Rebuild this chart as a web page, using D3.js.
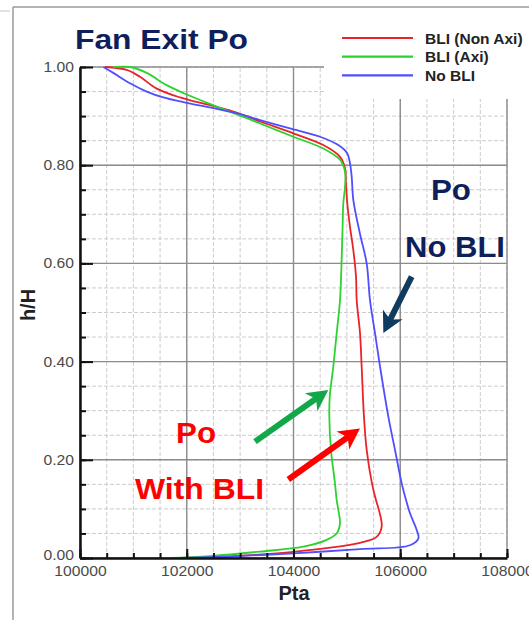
<!doctype html>
<html lang="en">
<head>
<meta charset="utf-8">
<title>Fan Exit Po</title>
<script src="https://cdnjs.cloudflare.com/ajax/libs/d3/7.8.5/d3.min.js"></script>
<style>
  body { margin: 0; background: #fff; }
  svg text { font-family: "Liberation Sans", Arial, sans-serif; }
</style>
</head>
<body>
<svg width="529" height="620" id="svg"></svg>
<script>
// axis ticks
var xTicks = [100000, 102000, 104000, 106000, 108000];
var yTicks = [0, 0.2, 0.4, 0.6, 0.8, 1.0];
var xMinor = d3.range(100000, 108001, 500);
var yMinor = d3.range(0, 1.0001, 0.05);

var seriesNames = ['BLI (Non Axi)', 'BLI (Axi)', 'No BLI'];
var seriesColors = ['#e8242a', '#2ed22e', '#4f4fff'];

// [Pta, h/H]
var bliNonAxi = [[101900,0],[102748,0.003],[103685,0.0095],[104621,0.02],[105246,0.031],[105558,0.043],
  [105652,0.064],[105600,0.098],[105545,0.118],[105470,0.152],[105371,0.22],[105320,0.288],[105277,0.39],
  [105246,0.458],[105184,0.525],[105171,0.573],[105121,0.627],[105058,0.675],[105008,0.722],[104983,0.763],
  [104965,0.794],[104871,0.817],[104558,0.841],[103996,0.865],[103372,0.889],[102874,0.909],[102186,0.929],
  [101874,0.938],[101437,0.956],[101124,0.98],[100875,0.994],[100470,1.0]];

var bliAxi = [[101686,0],[102436,0.004],[103372,0.013],[104184,0.023],[104621,0.037],[104809,0.05],
  [104871,0.071],[104840,0.098],[104809,0.118],[104777,0.152],[104702,0.22],[104671,0.288],[104680,0.33],
  [104746,0.39],[104809,0.458],[104871,0.525],[104902,0.607],[104920,0.675],[104933,0.722],[104965,0.756],
  [104965,0.787],[104871,0.811],[104558,0.834],[103996,0.858],[103372,0.885],[103124,0.896],[102500,0.922],
  [102000,0.944],[101624,0.963],[101250,0.988],[100937,1.0],[100624,1.0]];

var noBli = [[101874,0],[102748,0.003],[103996,0.0095],[105246,0.018],[106183,0.026],[106340,0.040],
  [106308,0.057],[106183,0.091],[106108,0.118],[106027,0.152],[105902,0.22],[105777,0.288],[105621,0.39],
  [105527,0.458],[105433,0.525],[105371,0.6],[105246,0.66],[105121,0.729],[105090,0.777],[105058,0.804],
  [105008,0.824],[104840,0.841],[104496,0.858],[103934,0.875],[103372,0.892],[103000,0.904],[102500,0.916],
  [102000,0.927],[101560,0.938],[101250,0.95],[100937,0.967],[100624,0.988],[100437,1.0]];

var series = [bliNonAxi, bliAxi, noBli];

// annotation arrows, in data units
var arrows = [
  {from: [106214, 0.573], to: [105683, 0.458], color: '#0f3b5f'},
  {from: [103279, 0.237], to: [104652, 0.342], color: '#12a84a'},
  {from: [103903, 0.160], to: [105246, 0.264], color: '#ff0000'}
];

var svg = d3.select('#svg');

var x = d3.scaleLinear().domain([100000, 108000]).range([80, 507]);
var y = d3.scaleLinear().domain([0, 1]).range([558, 67]);

// page frame
svg.append('line').attr('x1', 13).attr('y1', 7).attr('x2', 529).attr('y2', 7)
  .attr('stroke', '#9a9a9a').attr('stroke-width', 1.5);
svg.append('line').attr('x1', 13).attr('y1', 7).attr('x2', 13).attr('y2', 620)
  .attr('stroke', '#9a9a9a').attr('stroke-width', 1.5);
svg.append('line').attr('x1', 0).attr('y1', 11).attr('x2', 10).attr('y2', 11)
  .attr('stroke', '#e2e2e2').attr('stroke-width', 2);

// minor grid
var grid = svg.append('g');
grid.selectAll('.vminor').data(xMinor).enter().append('line')
  .attr('x1', function(d) { return x(d); }).attr('x2', function(d) { return x(d); })
  .attr('y1', y(0)).attr('y2', y(1))
  .attr('stroke', '#cccccc').attr('stroke-width', 1).attr('stroke-dasharray', '4,2');
grid.selectAll('.hminor').data(yMinor).enter().append('line')
  .attr('x1', x(100000)).attr('x2', x(108000))
  .attr('y1', function(d) { return y(d); }).attr('y2', function(d) { return y(d); })
  .attr('stroke', '#cccccc').attr('stroke-width', 1).attr('stroke-dasharray', '4,2');

// major grid
grid.selectAll('.vmajor').data(xTicks).enter().append('line')
  .attr('x1', function(d) { return x(d); }).attr('x2', function(d) { return x(d); })
  .attr('y1', y(0)).attr('y2', y(1))
  .attr('stroke', '#8c8c8c').attr('stroke-width', 1.4);
grid.selectAll('.hmajor').data(yTicks).enter().append('line')
  .attr('x1', x(100000)).attr('x2', x(108000))
  .attr('y1', function(d) { return y(d); }).attr('y2', function(d) { return y(d); })
  .attr('stroke', '#8c8c8c').attr('stroke-width', 1.4);

// legend backing
svg.append('rect').attr('x', 324).attr('y', 10).attr('width', 205).attr('height', 89).attr('fill', '#fff');

// curves
var line = d3.line()
  .x(function(d) { return x(d[0]); })
  .y(function(d) { return y(d[1]); })
  .curve(d3.curveCatmullRom);

svg.selectAll('.curve').data(series).enter().append('path')
  .attr('class', 'curve')
  .attr('d', line)
  .attr('fill', 'none')
  .attr('stroke', function(d, i) { return seriesColors[i]; })
  .attr('stroke-width', 1.8);

// axes
var gx = svg.append('g').attr('transform', 'translate(0,' + y(0) + ')')
  .call(d3.axisBottom(x).tickValues(xTicks).tickSize(-9).tickSizeOuter(0).tickPadding(8).tickFormat(d3.format('d')));
svg.append('g').attr('transform', 'translate(0,' + y(0) + ')')
  .call(d3.axisBottom(x).tickValues(xMinor).tickSize(-5).tickSizeOuter(0).tickFormat(''))
  .select('.domain').remove();
var gy = svg.append('g').attr('transform', 'translate(' + x(100000) + ',0)')
  .call(d3.axisLeft(y).tickValues(yTicks).tickSize(-13).tickSizeOuter(0).tickPadding(6).tickFormat(d3.format('.2f')));
svg.append('g').attr('transform', 'translate(' + x(100000) + ',0)')
  .call(d3.axisLeft(y).tickValues(yMinor).tickSize(-6).tickSizeOuter(0).tickFormat(''))
  .select('.domain').remove();

svg.selectAll('.tick line').attr('stroke', '#111').attr('stroke-width', 2);
gx.select('.domain').attr('stroke', '#111').attr('stroke-width', 2.5);
gy.select('.domain').attr('stroke', '#111').attr('stroke-width', 2.5);
svg.selectAll('.tick text')
  .attr('class', 'stretch')
  .attr('fill', '#4a4a4a')
  .style('font-size', '14px');
// 0.00 sits a touch high in the original, just above the 100000 label
gy.selectAll('.tick').filter(function(d) { return d === 0; }).select('text').attr('dy', '0.1em');

// axis titles
svg.append('text').attr('x', 294).attr('y', 600).attr('text-anchor', 'middle')
  .style('font-size', '20px').style('font-weight', 'bold').attr('fill', '#222').text('Pta');
svg.append('text').attr('transform', 'translate(35,305) rotate(-90)').attr('text-anchor', 'middle')
  .style('font-size', '20px').style('font-weight', 'bold').attr('fill', '#222').text('h/H');

// title
svg.append('text').attr('x', 75).attr('y', 49)
  .attr('textLength', 173).attr('lengthAdjust', 'spacingAndGlyphs')
  .style('font-size', '28px').style('font-weight', 'bold').attr('fill', '#0f1f5c').text('Fan Exit Po');

// legend
var leg = svg.selectAll('.leg').data(seriesNames).enter().append('g')
  .attr('transform', function(d, i) { return 'translate(0,' + (38 + i * 18.7) + ')'; });
leg.append('line').attr('x1', 342).attr('x2', 413)
  .attr('stroke', function(d, i) { return seriesColors[i]; }).attr('stroke-width', 2.2);
leg.append('text').attr('x', 425).attr('y', 5.5)
  .style('font-size', '15.5px').style('font-weight', 'bold').attr('fill', '#222')
  .text(function(d) { return d; });

// annotations
function note(tx, ty, str, size, len, color) {
  svg.append('text').attr('x', tx).attr('y', ty)
    .attr('textLength', len).attr('lengthAdjust', 'spacingAndGlyphs')
    .style('font-size', size + 'px').style('font-weight', 'bold').attr('fill', color).text(str);
}
note(431, 200, 'Po', 30, 40, '#0f1f5c');
note(405, 257, 'No BLI', 30, 100, '#0f1f5c');
note(176, 443, 'Po', 29, 40, '#ff0000');
note(135, 499, 'With BLI', 29, 129, '#ff0000');

arrows.forEach(function(a) {
  var x1 = x(a.from[0]), y1 = y(a.from[1]), x2 = x(a.to[0]), y2 = y(a.to[1]);
  var ang = Math.atan2(y2 - y1, x2 - x1), L = 21, W = 11;
  var c = Math.cos(ang), s = Math.sin(ang);
  var bx = x2 - L * c, by = y2 - L * s;
  svg.append('line').attr('x1', x1).attr('y1', y1)
    .attr('x2', x2 - 0.6 * L * c).attr('y2', y2 - 0.6 * L * s)
    .attr('stroke', a.color).attr('stroke-width', 6);
  var pts = [[x2, y2], [bx - W * s, by + W * c], [x2 - 0.72 * L * c, y2 - 0.72 * L * s], [bx + W * s, by - W * c]];
  svg.append('polygon').attr('points', pts.map(function(p) { return p.join(','); }).join(' '))
    .attr('fill', a.color);
});

// tick labels look a little wide in the picture
svg.selectAll('text.stretch').each(function() {
  var w = this.getComputedTextLength();
  d3.select(this).attr('textLength', w * 1.12).attr('lengthAdjust', 'spacingAndGlyphs');
});
</script>
</body>
</html>
